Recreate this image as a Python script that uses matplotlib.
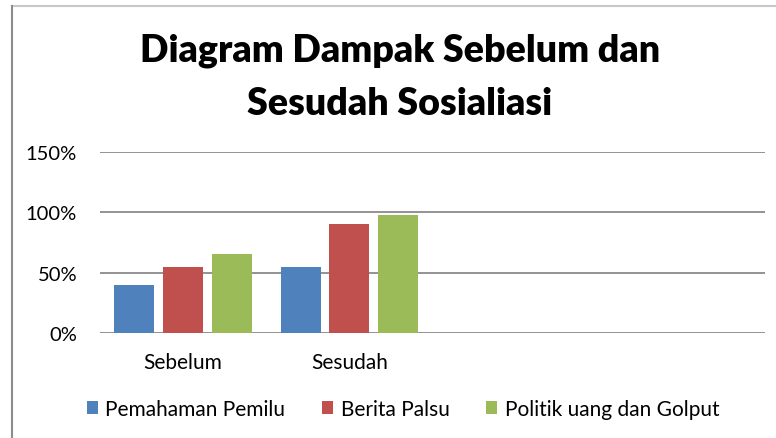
import numpy as np
import matplotlib.pyplot as plt
from matplotlib.patches import Patch
from matplotlib.lines import Line2D

categories = ['Sebelum', 'Sesudah', '', '']
series_names = ['Pemahaman Pemilu', 'Berita Palsu', 'Politik uang dan Golput']
pemahaman = [0.40, 0.55, np.nan, np.nan]
berita = [0.55, 0.90, np.nan, np.nan]
politik = [0.65, 0.98, np.nan, np.nan]
yticks = [0, 0.5, 1.0, 1.5]
ytick_labels = ['0%', '50%', '100%', '150%']

colors = ['#4F81BD', '#C0504D', '#9BBB59']
plt.rcParams['font.family'] = ['Lato', 'DejaVu Sans']

W, H = 776, 439
fig = plt.figure(figsize=(W / 100, H / 100), dpi=100)
ax = fig.add_axes([100 / W, 1 - 334 / H, 665 / W, (334 - 152.7) / H])

x = np.arange(len(categories))
width = 0.24
step = 0.293
for i, vals in enumerate([pemahaman, berita, politik]):
    ax.bar(x + (i - 1) * step, vals, width, color=colors[i], zorder=3)

ax.set_xlim(-0.5, len(categories) - 0.5)
ax.set_ylim(0, 1.5)
ax.set_yticks(yticks)
ax.set_yticklabels(ytick_labels, fontsize=14.5)
ax.set_xticks(x)
ax.set_xticklabels(categories, fontsize=15)
ax.tick_params(axis='both', length=0)
ax.tick_params(axis='y', pad=16.5)
ax.tick_params(axis='x', pad=14)
ax.grid(axis='y', color='#8a8a8a', lw=1.3, zorder=1)
for s in ax.spines.values():
    s.set_visible(False)

fig.text(400 / W, 1 - 51 / H, 'Diagram Dampak Sebelum dan', ha='center', va='center',
         fontsize=27, fontweight='heavy')
fig.text(400 / W, 1 - 104 / H, 'Sesudah Sosialiasi', ha='center', va='center',
         fontsize=27, fontweight='heavy')

handles = [Patch(facecolor=c, edgecolor='none') for c in colors]
fig.legend(handles, series_names, loc='center', bbox_to_anchor=(403 / W, 1 - 410 / H),
           ncol=3, frameon=False, fontsize=15, handlelength=0.55, handleheight=0.55,
           handletextpad=0.35, columnspacing=1.75)

# chart frame
fig.add_artist(Line2D([12 / W, 1], [1 - 7 / H, 1 - 7 / H], color='#c8c8c8', lw=1.5))
fig.add_artist(Line2D([12.5 / W, 12.5 / W], [0, 1 - 7 / H], color='#8c8c8c', lw=1.5))

fig.savefig('out.png', dpi=100)
